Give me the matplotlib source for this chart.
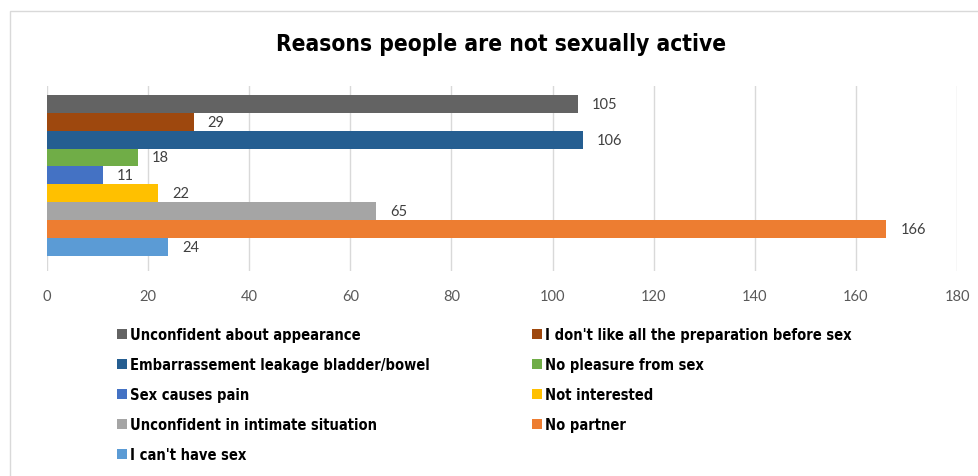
import matplotlib
matplotlib.use("Agg")
import matplotlib.pyplot as plt
from matplotlib.patches import Rectangle, Patch

reasons = [
    "Unconfident about appearance",
    "I don't like all the preparation before sex",
    "Embarrassement leakage bladder/bowel",
    "No pleasure from sex",
    "Sex causes pain",
    "Not interested",
    "Unconfident in intimate situation",
    "No partner",
    "I can't have sex",
]
counts = [105, 29, 106, 18, 11, 22, 65, 166, 24]
colors = ["#636363", "#9E480E", "#255E91", "#70AD47", "#4472C4",
          "#FFC000", "#A5A5A5", "#ED7D31", "#5B9BD5"]
x_ticks = [0, 20, 40, 60, 80, 100, 120, 140, 160, 180]

LABEL_FONT = ["Lato", "DejaVu Sans"]

fig = plt.figure(figsize=(9.79, 4.77), dpi=100)
fig.patch.set_facecolor("white")

# light chart frame
fig.patches.append(Rectangle((10 / 979, -0.05), 1.0, 1 - 12 / 477 + 0.05,
                             transform=fig.transFigure, fill=False,
                             edgecolor="#D9D9D9", linewidth=1.0))

ax = fig.add_axes([47 / 979, 1 - 272 / 477, 910 / 979, 185 / 477])

handles = []
for i, (name, val, col) in enumerate(zip(reasons, counts, colors)):
    ax.barh(i, val, height=1.0, color=col, zorder=2)
    ax.text(val + 2.8, i, str(val), va="center", ha="left",
            fontsize=10.5, color="#404040", family=LABEL_FONT)
    handles.append(Patch(facecolor=col, label=name))

ax.set_ylim(8.5 + 0.85, -0.5 - 0.5)
ax.set_xlim(0, 180)
ax.set_xticks(x_ticks)
ax.set_yticks([])
ax.grid(axis="x", color="#D9D9D9", linewidth=1.0, zorder=0)
ax.tick_params(axis="x", length=0, pad=13, labelsize=10.5, labelcolor="#595959")
for lbl in ax.get_xticklabels():
    lbl.set_family(LABEL_FONT)
for sp in ax.spines.values():
    sp.set_visible(False)

fig.text(501 / 979, 1 - 51 / 477, "Reasons people are not sexually active",
         ha="center", va="baseline", fontsize=16.3, fontweight="bold",
         family="DejaVu Sans", fontstretch="condensed", color="#000000")

# legend in two columns, one legend per column
leg_prop = {"family": "DejaVu Sans", "stretch": "condensed", "weight": "bold", "size": 10.5}
leg_kw = dict(loc="upper left", frameon=False, handlelength=0.7, handleheight=0.7,
              handletextpad=0.2, labelspacing=1.03, borderpad=0, borderaxespad=0,
              prop=leg_prop)
left = [0, 2, 4, 6, 8]
right = [1, 3, 5, 7]
fig.legend([handles[k] for k in left], [reasons[k] for k in left],
           bbox_to_anchor=(117 / 979, 1 - 328 / 477), **leg_kw)
fig.legend([handles[k] for k in right], [reasons[k] for k in right],
           bbox_to_anchor=(532 / 979, 1 - 328 / 477), **leg_kw)

fig.savefig("out.png", dpi=100)
